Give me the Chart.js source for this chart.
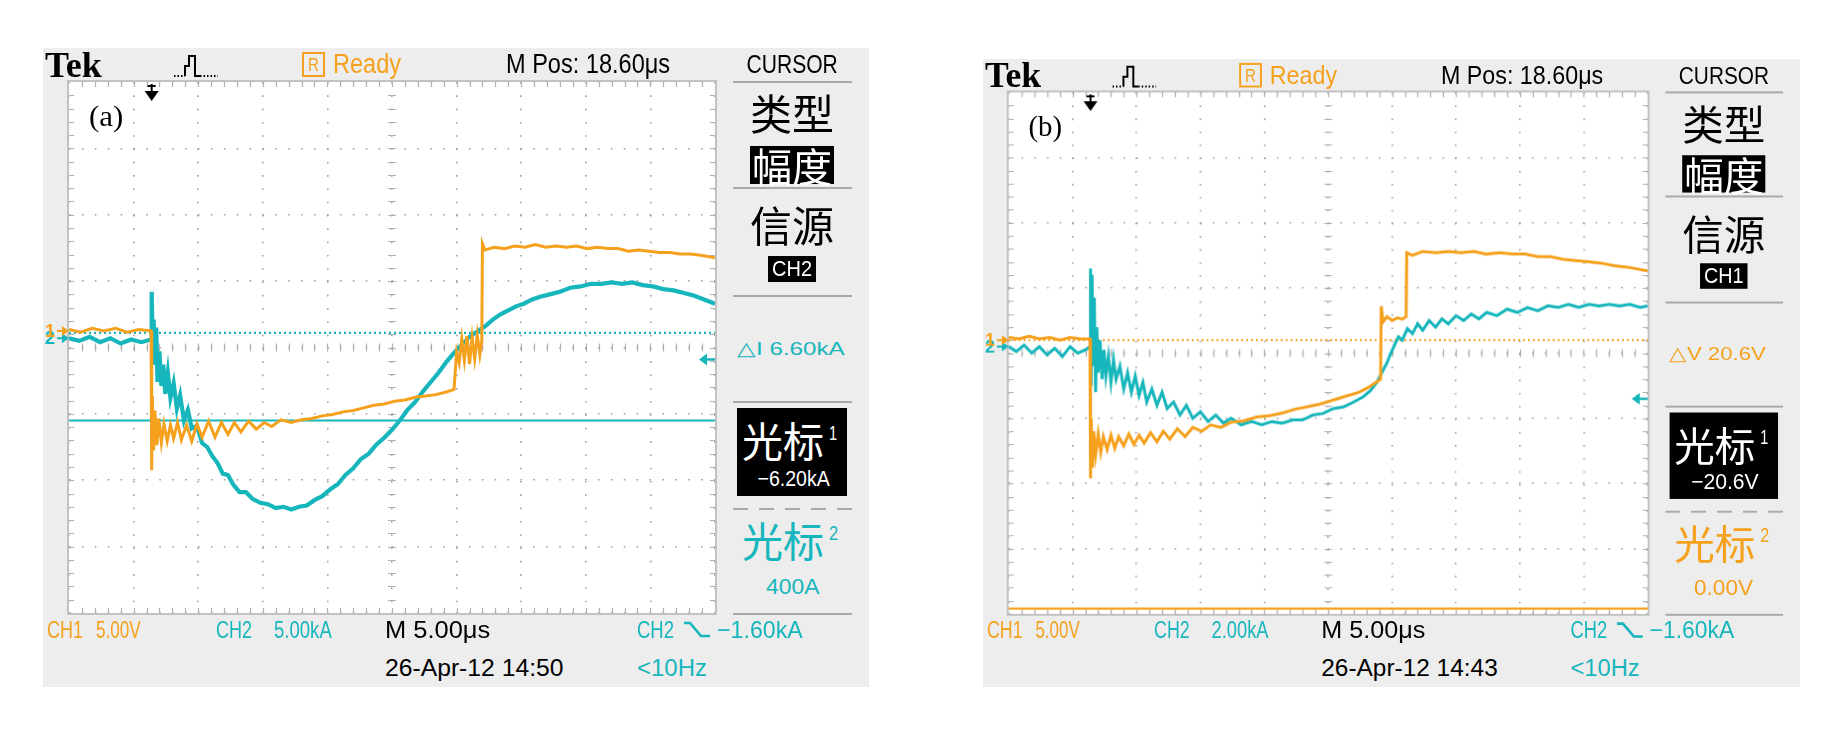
<!DOCTYPE html>
<html>
<head>
<meta charset="utf-8">
<title>Tek cursor captures (a) and (b)</title>
<script src="https://cdn.jsdelivr.net/npm/chart.js"></script>
<style>
  html, body { margin: 0; padding: 0; background: #fff; }
  body { width: 1828px; height: 742px; position: relative; overflow: hidden; }
  .panel { position: absolute; width: 826px; height: 639px; background: #ededed; }
  .t { position: absolute; white-space: pre; line-height: 1; font-family: "Liberation Sans", Arial, sans-serif; }
  .box { position: absolute; background: #000; }
  .sep { position: absolute; height: 2px; background: #a9a9a9; }
  .plot { position: absolute; left: 0; top: 30px; }
</style>
</head>
<body>
<div id="pa" class="panel" style="left:43px;top:48px"></div>
<div id="pb" class="panel" style="left:983px;top:59px;transform-origin:0 0;transform:scale(0.989,0.982)"></div>
<script>
const ORANGE = "#f5a11d";
const CYAN = "#16b6bc";

// horizontal: 5 us/div, M Pos 18.60 us, t = 0 at the trigger
const timePerDiv = 5;
const mPos = 18.6;
const trigLevel = -1.6; // kA, CH2 falling edge

// (a) CH1 voltage (V) and CH2 current (kA) against time (us)
const tA1 = [-6.4,-5.5,-4.6,-3.7,-2.8,-1.9,-1.0,-0.05,
  0,0.05,0.15,0.25,0.4,0.55,0.75,0.95,1.2,1.45,1.7,2.0,2.3,2.7,3.1,3.5,3.9,4.4,4.9,5.4,5.9,6.4,
  6.9,7.5,8.1,8.7,9.3,10.0,10.8,11.6,12.4,13.2,14.0,14.8,15.6,16.4,17.2,18.0,18.8,19.6,20.4,21.2,
  22.0,22.8,23.4,23.6,23.8,24.0,24.2,24.4,24.6,24.8,25.0,25.2,25.4,25.55,
  25.6,25.8,26.5,27.3,28.1,28.9,29.7,30.5,31.3,32.1,32.9,33.7,34.5,35.3,36.1,36.9,37.7,38.5,
  39.3,40.1,40.9,41.7,42.5,43.6];
const vA1 = [0.1,-0.1,0.2,0,0.2,-0.1,0.1,0,
  -10.5,-4.9,-9.0,-6.0,-8.6,-6.6,-8.4,-7.0,-8.3,-7.1,-8.1,-6.9,-8.2,-7.1,-8.3,-7.0,-8.0,-6.8,-8.0,-6.9,-7.8,-6.9,
  -7.6,-6.8,-7.4,-6.9,-7.2,-6.7,-6.9,-6.7,-6.6,-6.4,-6.3,-6.1,-6.0,-5.8,-5.6,-5.5,-5.3,-5.2,-5.0,-4.9,
  -4.8,-4.6,-4.4,-1.6,-2.4,-0.6,-2.2,-0.4,-2.5,-0.5,-2.1,-0.3,-1.8,-0.8,
  6.6,6.1,6.3,6.2,6.4,6.3,6.5,6.3,6.4,6.3,6.4,6.2,6.3,6.2,6.2,6.0,6.1,6.0,
  5.9,5.9,5.8,5.8,5.7,5.5];
const tA2 = [-6.4,-5.6,-4.8,-4.0,-3.2,-2.4,-1.6,-0.8,-0.05,
  0,0.08,0.15,0.25,0.35,0.45,0.6,0.75,0.9,1.05,1.25,1.45,1.7,1.95,2.2,2.5,2.8,3.1,3.5,3.9,
  4.3,4.7,5.1,5.5,5.9,6.3,6.8,7.3,7.8,8.4,9.0,9.6,10.2,10.8,11.4,12.0,12.6,13.2,13.8,14.4,
  15.0,15.6,16.2,16.8,17.4,18.0,18.6,19.2,19.8,20.4,21.0,21.6,22.2,22.8,23.4,24.0,24.6,25.2,25.8,26.4,
  27.0,27.6,28.2,28.8,29.4,30.0,30.8,31.6,32.4,33.2,34.0,34.8,35.6,36.4,37.2,38.0,38.8,39.6,40.4,41.2,
  42.0,42.8,43.6];
const iA2 = [0,-0.2,0.1,-0.3,0,-0.4,-0.1,-0.3,-0.1,
  3.5,-0.5,1.4,-2.0,0.8,-3.3,-1.0,-3.6,-2.0,-4.2,-2.6,-4.5,-3.4,-5.3,-4.3,-6.2,-5.4,-6.8,-6.6,-7.9,
  -8.2,-8.9,-9.4,-10.2,-10.3,-11.0,-11.6,-11.6,-12.1,-12.4,-12.5,-12.8,-12.7,-12.9,-12.7,-12.6,-12.2,-11.9,-11.4,-11.0,
  -10.3,-9.8,-9.1,-8.7,-8.0,-7.5,-6.9,-6.2,-5.4,-4.8,-4.0,-3.3,-2.6,-1.8,-1.1,-0.5,0.1,0.5,0.9,1.4,
  1.8,2.1,2.4,2.6,2.9,3.1,3.3,3.5,3.8,3.9,4.1,4.1,4.2,4.1,4.2,4.0,3.9,3.7,3.6,3.4,
  3.2,2.9,2.6];
const cursorsA = [-6.2, 0.4]; // kA, cursor 1 and cursor 2 on CH2

// (b) CH1 voltage (V) and CH2 current (kA) against time (us)
const tB1 = [-6.4,-5.6,-4.8,-4.0,-3.2,-2.4,-1.6,-0.8,-0.05,
  0,0.05,0.15,0.25,0.4,0.6,0.8,1.0,1.3,1.6,1.9,2.2,2.6,3.0,3.4,3.8,4.2,4.7,5.2,5.7,
  6.2,6.8,7.4,8.0,8.7,9.4,10.2,11.0,12.0,13.0,14.0,15.0,16.0,17.0,18.0,19.0,20.0,21.0,21.8,22.4,22.7,
  22.75,22.9,23.2,23.6,24.0,24.4,24.7,
  24.75,25.2,26.0,27.0,28.0,29.0,30.0,31.0,32.0,33.0,34.0,35.0,36.0,37.0,38.0,39.0,40.0,41.0,42.0,43.6];
const vB1 = [0.2,0.1,0.3,0.1,0.2,0,0.2,0.1,0.1,
  -10.6,-6.0,-9.8,-7.0,-8.8,-7.2,-8.6,-7.4,-8.4,-7.3,-8.3,-7.4,-8.1,-7.2,-8.0,-7.3,-7.9,-7.1,-7.8,-7.0,
  -7.6,-6.8,-7.4,-6.7,-7.0,-6.5,-6.7,-6.3,-6.2,-5.9,-5.8,-5.6,-5.3,-5.1,-4.9,-4.6,-4.3,-4.0,-3.6,-3.2,-3.0,
  2.6,1.4,1.8,1.5,1.7,1.6,1.8,
  6.7,6.5,6.8,6.7,6.8,6.7,6.8,6.6,6.7,6.6,6.6,6.4,6.4,6.2,6.1,6.0,5.9,5.7,5.6,5.3];
const tB2 = [-6.4,-5.8,-5.2,-4.6,-4.0,-3.4,-2.8,-2.2,-1.6,-1.0,-0.4,-0.05,
  0,0.05,0.12,0.2,0.3,0.4,0.5,0.6,0.75,0.9,1.05,1.2,1.4,1.6,1.8,2.0,2.3,2.6,2.9,3.2,
  3.5,3.8,4.1,4.4,4.8,5.2,5.6,6.0,6.5,7.0,7.5,8.0,8.6,9.2,9.8,10.4,11.0,11.8,12.6,13.4,
  14.2,15.0,15.8,16.6,17.4,18.2,19.0,19.8,20.6,21.3,21.9,22.4,22.8,23.2,23.5,23.8,24.1,24.4,24.8,25.2,
  25.6,26.0,26.5,27.0,27.5,28.0,28.6,29.2,29.8,30.4,31.0,31.8,32.6,33.4,34.2,35.0,35.8,36.6,37.4,38.2,
  39.0,39.8,40.6,41.4,42.2,43.0,43.6];
const iB2 = [0,-0.15,0.05,-0.2,0,-0.25,-0.05,-0.3,0,-0.2,-0.1,0,
  2.4,-1.2,2.2,-0.6,1.5,-1.4,0.6,-0.8,0.2,-1.0,-0.1,-0.9,-0.3,-1.1,-0.4,-1.0,-0.6,-1.3,-0.8,-1.4,
  -0.9,-1.5,-1.1,-1.7,-1.3,-1.8,-1.4,-1.9,-1.7,-2.1,-1.8,-2.2,-2.0,-2.3,-2.1,-2.35,-2.2,-2.4,-2.3,-2.4,
  -2.3,-2.35,-2.25,-2.25,-2.1,-2.05,-1.9,-1.85,-1.7,-1.55,-1.35,-1.1,-0.8,-0.5,-0.2,0.05,0.3,0.2,0.55,0.4,
  0.7,0.5,0.8,0.6,0.85,0.7,0.95,0.8,1.0,0.85,1.05,0.95,1.15,1.05,1.2,1.1,1.25,1.2,1.3,1.2,
  1.3,1.25,1.3,1.25,1.3,1.2,1.25];
const cursorsB = [-20.6, 0.0]; // V, cursor 1 and cursor 2 on CH1

const UI = '"Liberation Sans", Arial, sans-serif';
const CJK = '"Noto Sans CJK SC", "Noto Sans CJK JP", sans-serif';

// text helper: x is left edge (or centre), yc is vertical centre, w squeezes to a width
function T(el, str, x, yc, size, color, o = {}) {
  const d = document.createElement("div");
  d.className = "t";
  d.textContent = str;
  d.style.fontSize = size + "px";
  d.style.color = color;
  if (o.family) d.style.fontFamily = o.family;
  if (o.weight) d.style.fontWeight = o.weight;
  d.style.top = (yc - size * 0.5) + "px";
  el.appendChild(d);
  const w = d.offsetWidth;
  const sx = o.w ? o.w / w : 1;
  if (o.center) {
    d.style.left = (x - w / 2) + "px";
    d.style.transformOrigin = "50% 50%";
  } else {
    d.style.left = x + "px";
    d.style.transformOrigin = "0 50%";
  }
  d.style.transform = "scaleX(" + sx + ")";
  return d;
}

function box(el, x, y, w, h) {
  const d = document.createElement("div");
  d.className = "box";
  Object.assign(d.style, { left: x + "px", top: y + "px", width: w + "px", height: h + "px" });
  el.appendChild(d);
  return d;
}

function sep(el, x, y, w, dashed) {
  const d = document.createElement("div");
  d.className = "sep";
  Object.assign(d.style, { left: x + "px", top: y + "px", width: w + "px" });
  if (dashed) d.style.background = "repeating-linear-gradient(90deg,#a9a9a9 0 15px,transparent 15px 26px)";
  el.appendChild(d);
}

const divTicks = (min, step, n) => Array.from({ length: n + 1 }, (_, k) => ({ value: min + k * step }));
const pts = (ts, vs) => ts.map((t, i) => ({ x: t, y: vs[i] }));

// white screen, graticule ticks, border and the scope markers
const scopePlugin = {
  id: "scope",
  beforeDraw(chart) {
    const { ctx, chartArea: a } = chart;
    ctx.save();
    ctx.fillStyle = "#fff";
    ctx.fillRect(a.left, a.top, a.right - a.left, a.bottom - a.top);
    ctx.restore();
  },
  beforeDatasetsDraw(chart) {
    const { ctx, chartArea: a } = chart;
    const px = (a.right - a.left) / 50, py = (a.bottom - a.top) / 40;
    const cx = (a.left + a.right) / 2, cy = (a.top + a.bottom) / 2;
    ctx.save();
    ctx.strokeStyle = "#b0b0b0";
    ctx.lineWidth = 1.2;
    ctx.beginPath();
    for (let k = 1; k < 50; k++) {
      const x = Math.round(a.left + k * px) + 0.5;
      ctx.moveTo(x, cy - 4); ctx.lineTo(x, cy + 4);
      ctx.moveTo(x, a.top); ctx.lineTo(x, a.top + 5);
      ctx.moveTo(x, a.bottom); ctx.lineTo(x, a.bottom - 5);
    }
    for (let k = 1; k < 40; k++) {
      const y = Math.round(a.top + k * py) + 0.5;
      ctx.moveTo(cx - 4, y); ctx.lineTo(cx + 4, y);
      ctx.moveTo(a.left, y); ctx.lineTo(a.left + 5, y);
      ctx.moveTo(a.right, y); ctx.lineTo(a.right - 5, y);
    }
    ctx.stroke();
    ctx.strokeStyle = "#c2c2c2";
    ctx.lineWidth = 2;
    ctx.strokeRect(a.left - 1, a.top - 1, a.right - a.left + 2, a.bottom - a.top + 2);
    ctx.restore();
  },
  afterDatasetsDraw(chart) {
    const { ctx, chartArea: a, scales } = chart;
    ctx.save();
    const ground = (y, label, col) => {
      ctx.fillStyle = col;
      ctx.strokeStyle = col;
      ctx.lineWidth = 2;
      ctx.font = "bold 18px " + UI;
      ctx.textAlign = "center";
      ctx.textBaseline = "middle";
      ctx.fillText(label, a.left - 19, y + 1);
      ctx.beginPath();
      ctx.moveTo(a.left - 12, y); ctx.lineTo(a.left - 4, y);
      ctx.stroke();
      ctx.beginPath();
      ctx.moveTo(a.left, y); ctx.lineTo(a.left - 7, y - 5); ctx.lineTo(a.left - 7, y + 5);
      ctx.closePath();
      ctx.fill();
    };
    ground(scales.y2.getPixelForValue(0), "2", CYAN);
    ground(scales.y1.getPixelForValue(0), "1", ORANGE);

    // trigger level arrow, right edge
    const ty = scales.y2.getPixelForValue(trigLevel);
    ctx.fillStyle = CYAN;
    ctx.strokeStyle = CYAN;
    ctx.lineWidth = 2.5;
    ctx.beginPath();
    ctx.moveTo(a.right - 16, ty); ctx.lineTo(a.right - 8, ty - 6); ctx.lineTo(a.right - 8, ty + 6);
    ctx.closePath();
    ctx.fill();
    ctx.beginPath();
    ctx.moveTo(a.right - 9, ty); ctx.lineTo(a.right, ty);
    ctx.stroke();

    // trigger position arrow, top edge
    const tx = scales.x.getPixelForValue(0);
    ctx.fillStyle = "#000";
    ctx.strokeStyle = "#000";
    ctx.lineWidth = 2;
    ctx.beginPath();
    ctx.moveTo(tx, a.top + 2); ctx.lineTo(tx, a.top + 10);
    ctx.moveTo(tx - 4, a.top + 4); ctx.lineTo(tx + 4, a.top + 4);
    ctx.stroke();
    ctx.beginPath();
    ctx.moveTo(tx - 7, a.top + 9); ctx.lineTo(tx + 7, a.top + 9); ctx.lineTo(tx, a.top + 19);
    ctx.closePath();
    ctx.fill();
    ctx.restore();
  }
};

function makeChart(el, p) {
  const wrap = document.createElement("div");
  wrap.className = "plot";
  const cv = document.createElement("canvas");
  cv.width = 682;
  cv.height = 539;
  wrap.appendChild(cv);
  el.appendChild(wrap);

  const xMin = mPos - 5 * timePerDiv, xMax = mPos + 5 * timePerDiv;
  const y1Min = -(4 + p.gnd1) * p.ch1Div, y1Max = (4 - p.gnd1) * p.ch1Div;
  const y2Min = -(4 + p.gnd2) * p.ch2Div, y2Max = (4 - p.gnd2) * p.ch2Div;
  const flat = v => [{ x: xMin, y: v }, { x: xMax, y: v }];
  const cAxis = p.cursorCh === 1 ? "y1" : "y2";

  new Chart(cv, {
    type: "line",
    data: {
      datasets: [
        { label: "CH1", data: pts(p.t1, p.v1), yAxisID: "y1", borderColor: ORANGE, borderWidth: 3 },
        { label: "CH2", data: pts(p.t2, p.v2), yAxisID: "y2", borderColor: CYAN, borderWidth: p.cyanWidth },
        { label: "Cursor 1", data: flat(p.cursors[0]), yAxisID: cAxis, borderColor: p.cc, borderWidth: 2.2 },
        { label: "Cursor 2", data: flat(p.cursors[1]), yAxisID: cAxis, borderColor: p.cc, borderWidth: 2.2, borderDash: [2, 3] }
      ]
    },
    options: {
      responsive: false,
      animation: false,
      events: [],
      layout: { padding: { left: 26, top: 4, right: 10, bottom: 4 } },
      elements: { point: { radius: 0 }, line: { tension: 0, borderCapStyle: "butt", borderJoinStyle: "miter" } },
      plugins: { legend: { display: false }, tooltip: { enabled: false } },
      scales: {
        x: {
          type: "linear", min: xMin, max: xMax,
          afterBuildTicks: ax => { ax.ticks = divTicks(xMin, timePerDiv, 10); },
          ticks: { display: false },
          grid: { color: "#a0a0a0", lineWidth: 1.6, drawTicks: false, borderDash: [1.6, 11.7] },
          border: { display: false, dash: [1.6, 11.7] }
        },
        y1: {
          type: "linear", position: "left", min: y1Min, max: y1Max,
          afterBuildTicks: ax => { ax.ticks = divTicks(y1Min, p.ch1Div, 8); },
          ticks: { display: false },
          grid: { color: "#a0a0a0", lineWidth: 1.6, drawTicks: false, borderDash: [1.6, 11.3] },
          border: { display: false, dash: [1.6, 11.3] }
        },
        y2: {
          type: "linear", position: "left", min: y2Min, max: y2Max,
          ticks: { display: false },
          grid: { display: false, drawTicks: false },
          border: { display: false }
        }
      }
    },
    plugins: [scopePlugin]
  });
}

function trigIcon(el) {
  el.insertAdjacentHTML("beforeend",
    '<svg style="position:absolute;left:130px;top:4px" width="46" height="27">' +
    '<path d="M1 24H12" stroke="#000" stroke-width="2" stroke-dasharray="1.5 2"/>' +
    '<path d="M12 24V14H16V4H22V24H27" stroke="#000" stroke-width="2" fill="none"/>' +
    '<path d="M27 24H45" stroke="#000" stroke-width="2" stroke-dasharray="1.5 2"/></svg>');
}

function edgeIcon(el, x, yc) {
  el.insertAdjacentHTML("beforeend",
    '<svg style="position:absolute;left:' + x + 'px;top:' + (yc - 10) + 'px" width="30" height="20">' +
    '<path d="M2 3H8L19 16H28" stroke="' + CYAN + '" stroke-width="2.6" fill="none"/></svg>');
}

function buildPanel(p) {
  const el = document.getElementById(p.id);
  makeChart(el, p);

  // header strip
  T(el, "Tek", 2, 17, 36, "#000", { family: '"Liberation Serif", "Times New Roman", serif', weight: "bold", w: 57 });
  trigIcon(el);
  const r = document.createElement("div");
  Object.assign(r.style, { position: "absolute", left: "259px", top: "4px", width: "23px", height: "25px",
    border: "2px solid " + ORANGE, boxSizing: "border-box" });
  el.appendChild(r);
  T(el, "R", 270.5, 17, 18, ORANGE, { center: true, w: 11 });
  T(el, "Ready", 290, 16, 27, ORANGE, { w: 68 });
  T(el, "M Pos: 18.60μs", 463, 16, 27, "#000", { w: 164 });
  T(el, p.tag, 46, 68, 30, "#000", { family: '"Liberation Serif", "Times New Roman", serif', w: 34 });

  // right-hand CURSOR menu
  T(el, "CURSOR", 749, 16, 25, "#000", { center: true, w: 91 });
  [33, 139, 247, 353, 565].forEach(y => sep(el, 690, y, 119));
  sep(el, 690, 460, 119, true);
  T(el, "类型", 749, 64, 42, "#000", { center: true, family: CJK });
  box(el, 707, 98, 84, 38);
  T(el, "幅度", 749, 117, 40, "#fff", { center: true, family: CJK });
  T(el, "信源", 749, 176, 42, "#000", { center: true, family: CJK });
  box(el, 725, 208, 48, 26);
  T(el, p.src, 749, 221, 22, "#fff", { center: true, w: 40 });
  T(el, p.delta, 694, 300, 19, p.cc, { w: p.deltaW });
  box(el, 694, 360, 110, 88);
  T(el, "光标", 699, 391, 41, "#fff", { family: CJK });
  T(el, "1", 786, 385, 20, "#fff", { w: 8 });
  T(el, p.c1, 750, 431, 22, "#fff", { center: true, w: p.c1W });
  T(el, "光标", 699, 491, 41, p.cc, { family: CJK });
  T(el, "2", 786, 485, 20, p.cc, { w: 9 });
  T(el, p.c2, 749, 539, 22, p.cc, { center: true, w: p.c2W });

  // bottom readouts
  T(el, "CH1", 4, 582, 24, ORANGE, { w: 36 });
  T(el, "5.00V", 53, 582, 24, ORANGE, { w: 45 });
  T(el, "CH2", 173, 582, 24, CYAN, { w: 36 });
  T(el, p.ch2Text, 231, 582, 24, CYAN, { w: 58 });
  T(el, "M 5.00μs", 342, 582, 24, "#000", { w: 105 });
  T(el, "CH2", 594, 582, 24, CYAN, { w: 37 });
  edgeIcon(el, 639, 582);
  T(el, "−1.60kA", 674, 582, 24, CYAN, { w: 86 });
  T(el, p.date, 342, 620, 24, "#000", { w: 178 });
  T(el, "<10Hz", 594, 620, 24, CYAN, { w: 70 });
}

buildPanel({
  id: "pa", tag: "(a)",
  t1: tA1, v1: vA1, t2: tA2, v2: iA2,
  ch1Div: 5, ch2Div: 5, gnd1: 0.25, gnd2: 0.14,
  cursorCh: 2, cursors: cursorsA, cc: CYAN, cyanWidth: 4.2,
  src: "CH2", delta: "△I 6.60kA", deltaW: 108,
  c1: "−6.20kA", c1W: 72, c2: "400A", c2W: 53,
  ch2Text: "5.00kA", date: "26-Apr-12 14:50"
});

buildPanel({
  id: "pb", tag: "(b)",
  t1: tB1, v1: vB1, t2: tB2, v2: iB2,
  ch1Div: 5, ch2Div: 2, gnd1: 0.2, gnd2: 0.1,
  cursorCh: 1, cursors: cursorsB, cc: ORANGE, cyanWidth: 3,
  src: "CH1", delta: "△V 20.6V", deltaW: 98,
  c1: "−20.6V", c1W: 68, c2: "0.00V", c2W: 60,
  ch2Text: "2.00kA", date: "26-Apr-12 14:43"
});
</script>
</body>
</html>
